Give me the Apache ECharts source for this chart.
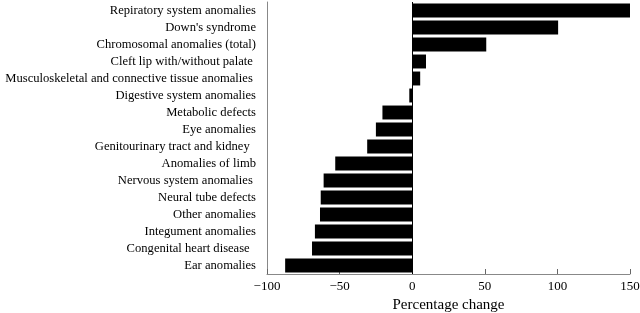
<!DOCTYPE html>
<html>
<head>
<meta charset="utf-8">
<script src="https://cdn.jsdelivr.net/npm/echarts@6/dist/echarts.min.js"></script>
<style>
  html, body { margin: 0; padding: 0; background: #fff; }
  #chart { width: 640px; height: 313px; }
</style>
</head>
<body>
<div id="chart"></div>
<script>
var categories = [
  "Repiratory system anomalies",
  "Down's syndrome",
  "Chromosomal anomalies (total)",
  "Cleft lip with/without palate ",
  "Musculoskeletal and connective tissue anomalies ",
  "Digestive system anomalies",
  "Metabolic defects",
  "Eye anomalies",
  "Genitourinary tract and kidney  ",
  "Anomalies of limb",
  "Nervous system anomalies ",
  "Neural tube defects",
  "Other anomalies",
  "Integument anomalies",
  "Congenital heart disease  ",
  "Ear anomalies"
];
var changes = [151, 100.5, 51, 9.5, 5.5, -2, -20.5, -25, -31, -53, -61, -63, -63.5, -67, -69, -87.5];
var xTicks = { min: -100, max: 150, step: 50 };

var chart = echarts.init(document.getElementById("chart"));
var font = "'Liberation Serif', 'Times New Roman', serif";

var option = {
  backgroundColor: "#fff",
  animation: false,
  grid: { left: 267, right: 10, top: 2, bottom: 39, containLabel: false, outerBoundsMode: "none" },
  xAxis: {
    type: "value",
    min: xTicks.min,
    max: xTicks.max,
    interval: xTicks.step,
    name: "Percentage change",
    nameLocation: "middle",
    nameGap: 24,
    nameTextStyle: { fontFamily: font, fontSize: 15, color: "#000" },
    axisLine: { show: true, lineStyle: { color: "#888", width: 1 } },
    axisTick: { show: true, inside: true, length: 5, lineStyle: { color: "#666" } },
    axisLabel: {
      fontFamily: font, fontSize: 13, color: "#000", margin: 6,
      formatter: function (v) { return String(v).replace("-", "\u2212"); }
    },
    splitLine: { show: false }
  },
  yAxis: {
    type: "category",
    data: categories,
    inverse: true,
    axisLine: { show: true, onZero: false, lineStyle: { color: "#888", width: 1 } },
    axisTick: { show: false },
    axisLabel: { interval: 0, fontFamily: font, fontSize: 12.6, color: "#000", margin: 11 }
  },
  series: [{
    type: "bar",
    data: changes,
    barCategoryGap: "18%",
    itemStyle: { color: "#000" },
    markLine: {
      silent: true,
      symbol: "none",
      label: { show: false },
      lineStyle: { color: "#000", width: 1, type: "solid" },
      data: [{ xAxis: 0 }]
    }
  }]
};

chart.setOption(option);
</script>
</body>
</html>
